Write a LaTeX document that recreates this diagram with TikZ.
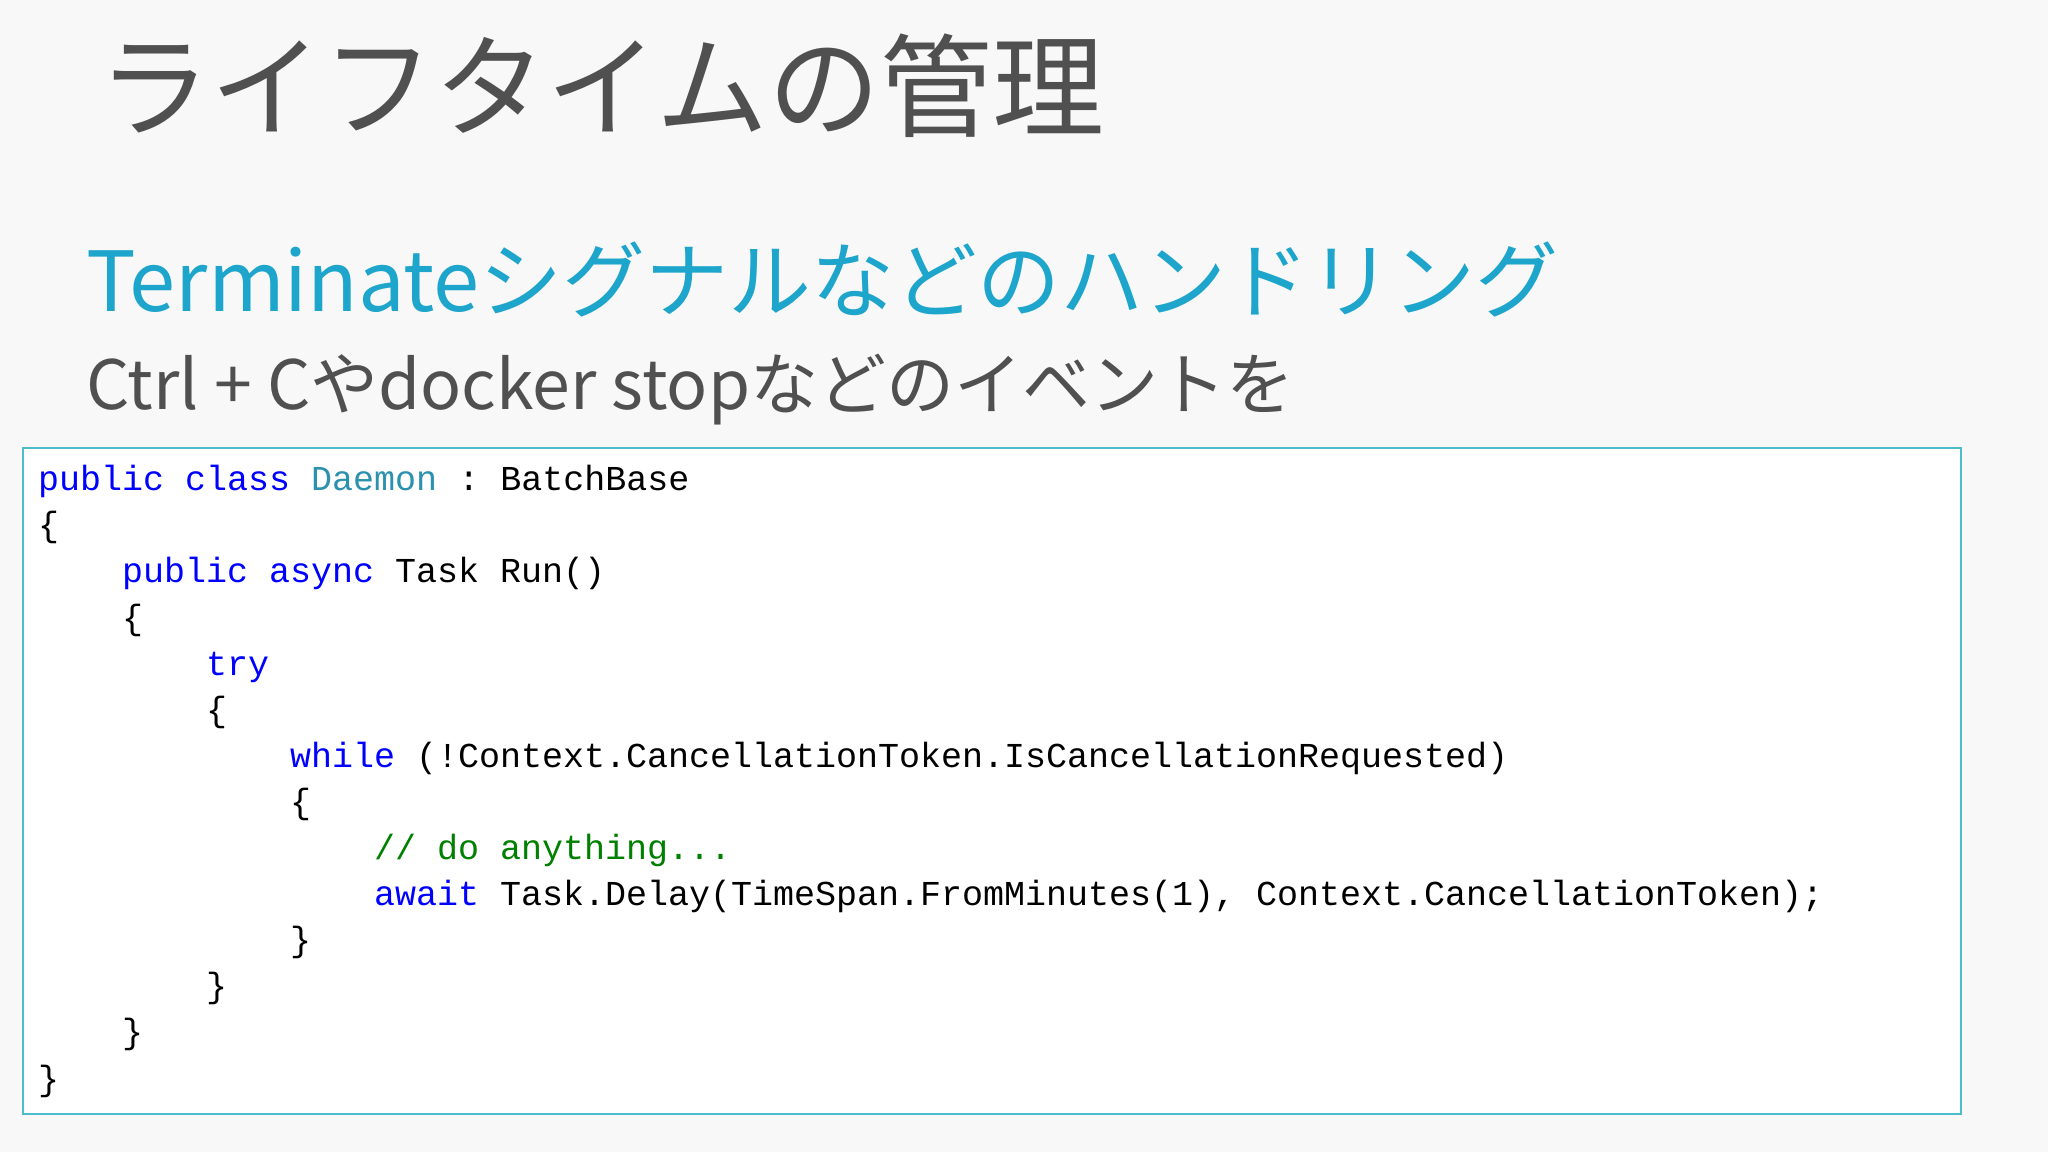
\documentclass[tikz,border=0pt]{standalone}
\usepackage{fontspec}
\setmainfont{Noto Sans CJK JP}
\setmonofont{Liberation Mono}
\definecolor{bg}{HTML}{F8F8F8}
\definecolor{ttl}{HTML}{505050}
\definecolor{cy}{HTML}{1EA5CB}
\definecolor{bx}{HTML}{4DBCCB}
\definecolor{kw}{HTML}{0000FF}
\definecolor{ty}{HTML}{2B91AF}
\definecolor{cm}{HTML}{008000}
\newcommand{\K}[1]{\textcolor{kw}{#1}}
\tikzset{codeline/.style={anchor=mid west,inner sep=0pt,font=\ttfamily\fontsize{35}{40}\selectfont},
 txt/.style={anchor=mid west,inner sep=0pt}}
\begin{document}
\begin{tikzpicture}[x=1pt,y=-1pt]
\fill[bg] (0,0) rectangle (2048,1152);
\useasboundingbox (0,0) rectangle (2048,1152);
\node[txt,text=ttl,font=\fontsize{112}{114}\selectfont] (title) at (98,126) {ライフタイムの管理};
\node[txt,text=cy,font=\fontsize{83}{86}\selectfont] (sub) at (86,309) {Terminateシグナルなどのハンドリング};
\node[txt,text=ttl,font=\fontsize{68}{72}\selectfont] (sub2) at (86,407) {Ctrl + Cやdocker stopなどのイベントを};
\node[draw=bx,line width=1.5pt,fill=white,minimum width=1938,minimum height=666,anchor=north west,inner sep=0pt] (box) at (22,447) {};
\foreach \i/\ind/\t in {
0/0/{\K{public class} \textcolor{ty}{Daemon} : BatchBase},
1/0/\{,
2/4/{\K{public async} Task Run()},
3/4/\{,
4/8/{\K{try}},
5/8/\{,
6/12/{\K{while} (!Context.CancellationToken.IsCancellationRequested)},
7/12/\{,
8/16/{\textcolor{cm}{// do anything...}},
9/16/{\K{await} Task.Delay(TimeSpan.FromMinutes(1), Context.CancellationToken);},
10/12/\},
11/8/\},
12/4/\},
13/0/\}}
  \node[codeline] (l\i) at (38+21*\ind,488+46.1*\i) {\t};
\end{tikzpicture}
\end{document}
